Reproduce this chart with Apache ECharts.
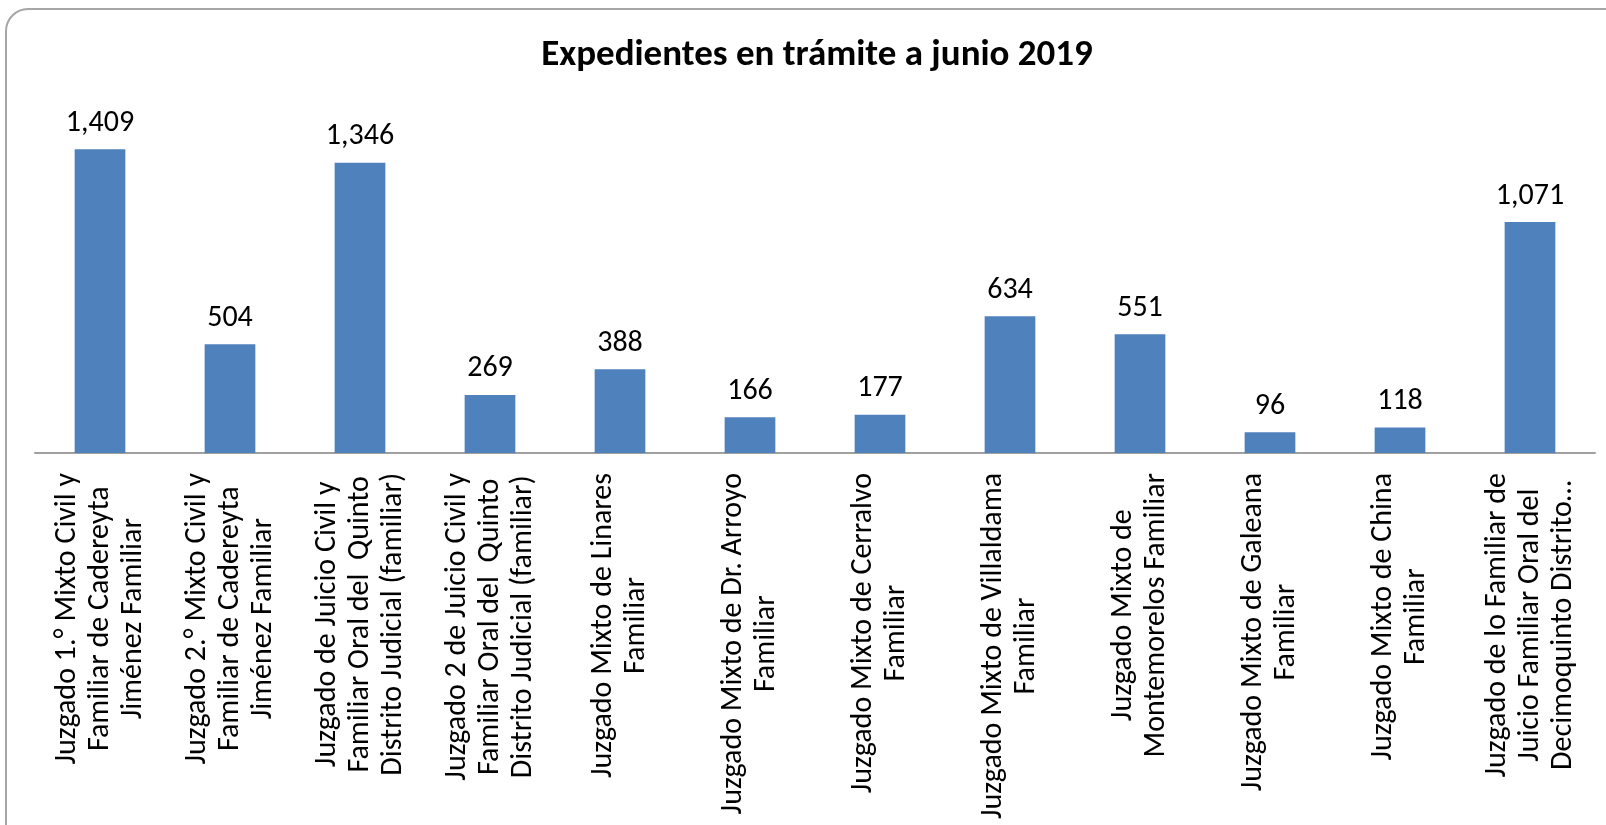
<!DOCTYPE html>
<html>
<head>
<meta charset="utf-8">
<script src="https://cdn.jsdelivr.net/npm/echarts@6/dist/echarts.min.js"></script>
<style>
  html, body { margin: 0; padding: 0; background: #fff; }
  #chart { width: 1606px; height: 825px; }
</style>
</head>
<body>
<div id="chart"></div>
<script>
// categorias (saltos de linea como en el original)
var categorias = [
  'Juzgado 1.° Mixto Civil y\nFamiliar de Cadereyta\nJiménez Familiar',
  'Juzgado 2.° Mixto Civil y\nFamiliar de Cadereyta\nJiménez Familiar',
  'Juzgado de Juicio Civil y\nFamiliar Oral del  Quinto\nDistrito Judicial (familiar)',
  'Juzgado 2 de Juicio Civil y\nFamiliar Oral del  Quinto\nDistrito Judicial (familiar)',
  'Juzgado Mixto de Linares\nFamiliar',
  'Juzgado Mixto de Dr. Arroyo\nFamiliar',
  'Juzgado Mixto de Cerralvo\nFamiliar',
  'Juzgado Mixto de Villaldama\nFamiliar',
  'Juzgado Mixto de\nMontemorelos Familiar',
  'Juzgado Mixto de Galeana\nFamiliar',
  'Juzgado Mixto de China\nFamiliar',
  'Juzgado de lo Familiar de\nJuicio Familiar Oral del\nDecimoquinto Distrito…'
];

var expedientes = [1409, 504, 1346, 269, 388, 166, 177, 634, 551, 96, 118, 1071];

var titulo = 'Expedientes en trámite a junio 2019';

var fuente = 'Carlito, Lato, sans-serif';

var chart = echarts.init(document.getElementById('chart'));

chart.setOption({
  animation: false,
  backgroundColor: '#fff',
  title: {
    text: titulo,
    left: 812,
    textAlign: 'center',
    top: 32,
    textStyle: {
      fontFamily: fuente,
      fontWeight: 'bold',
      fontSize: 37,
      color: '#000'
    }
  },
  graphic: [{
    type: 'rect',
    shape: { x: 6, y: 9, width: 1630, height: 840, r: 22 },
    style: { fill: 'none', stroke: '#a6a6a6', lineWidth: 2 },
    silent: true
  }],
  grid: {
    left: 35,
    right: 11,
    top: 108,
    bottom: 372,
    containLabel: false,
    outerBoundsMode: 'none'
  },
  xAxis: {
    type: 'category',
    data: categorias,
    axisLine: { lineStyle: { color: '#a0a0a0', width: 2 } },
    axisTick: { show: false },
    axisLabel: {
      interval: 0,
      rotate: 90,
      margin: 20,
      color: '#000',
      fontFamily: fuente,
      fontSize: 30,
      lineHeight: 33,
      // cada linea centrada dentro del bloque
      formatter: function (v) {
        return v.split('\n').map(function (l) { return '{c|' + l + '}'; }).join('\n');
      },
      rich: {
        c: {
          align: 'center',
          fontFamily: fuente,
          fontSize: 30,
          lineHeight: 33,
          color: '#000'
        }
      }
    }
  },
  yAxis: {
    type: 'value',
    min: 0,
    max: 1600,
    show: false,
    splitLine: { show: false }
  },
  series: [{
    type: 'bar',
    data: expedientes,
    barWidth: '39%',
    itemStyle: { color: '#4f81bd' },
    label: {
      show: true,
      position: 'top',
      distance: 11,
      color: '#000',
      fontFamily: fuente,
      fontSize: 30,
      formatter: function (p) {
        return p.value.toLocaleString('en-US');
      }
    }
  }]
});
</script>
</body>
</html>
